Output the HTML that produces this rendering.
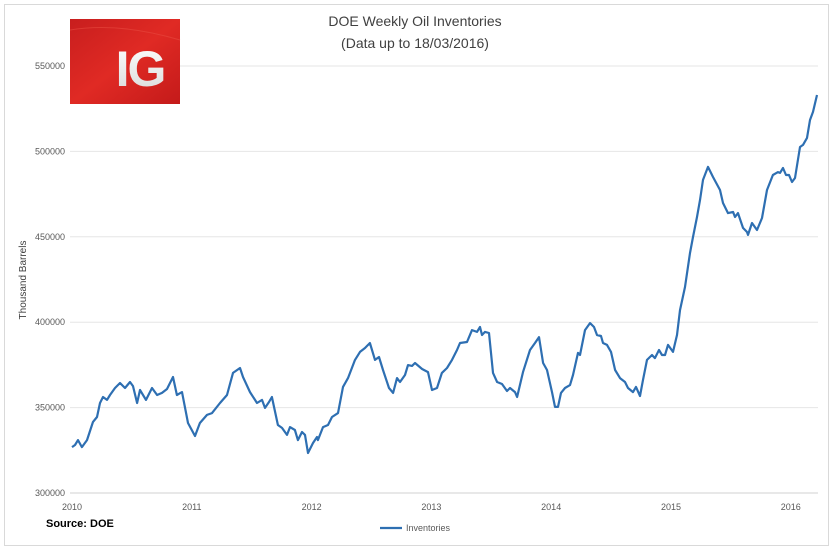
<!DOCTYPE html>
<html><head><meta charset="utf-8"><style>
body{margin:0;background:#fff;font-family:"Liberation Sans",sans-serif}
svg{display:block}
</style></head><body>
<svg width="832" height="550" viewBox="0 0 832 550">
<defs><linearGradient id="lg" x1="0" y1="0" x2="1" y2="1"><stop offset="0" stop-color="#c81e1e"/><stop offset="0.5" stop-color="#e02a24"/><stop offset="1" stop-color="#c41a1a"/></linearGradient>
<linearGradient id="ig" x1="0" y1="0" x2="0" y2="1"><stop offset="0" stop-color="#ffffff"/><stop offset="1" stop-color="#d8d8d8"/></linearGradient></defs>
<rect x="4.5" y="4.5" width="824" height="541" fill="#fff" stroke="#d9d9d9"/>
<g id="grid"></g>
<g id="yticks"></g>
<g id="xticks"></g>
<g>
<rect x="70" y="19" width="110" height="85" fill="url(#lg)"/>
<path d="M70 30 Q120 22 180 40" stroke="#e84a40" stroke-width="1" fill="none" opacity="0.6"/>
<text x="140" y="86" text-anchor="middle" font-size="50" font-weight="bold" fill="url(#ig)" font-family="Liberation Sans, sans-serif" letter-spacing="-2">IG</text>
</g>
<text x="415" y="26" text-anchor="middle" font-size="14" fill="#404040">DOE Weekly Oil Inventories</text>
<text x="415" y="48" text-anchor="middle" font-size="14" fill="#404040">(Data up to 18/03/2016)</text>
<text transform="translate(26,280) rotate(-90)" text-anchor="middle" font-size="10" fill="#404040">Thousand Barrels</text>
<path id="line" fill="none" stroke="#2e6fb2" stroke-width="2.2" stroke-linejoin="round"/>
<text x="46" y="527" font-size="11" font-weight="bold" fill="#000">Source: DOE</text>
<g>
<line x1="380" y1="528" x2="402" y2="528" stroke="#2e6fb2" stroke-width="2.2"/>
<text x="406" y="531" font-size="9" fill="#595959">Inventories</text>
</g>
</svg>
<script>
const yTicks=[300000,350000,400000,450000,500000,550000];
const xTickYears=[2010,2011,2012,2013,2014,2015,2016];
const yearsSince2010=[0,.025,.05,.083,.125,.175,.209,.234,.259,.292,.317,.359,.401,.442,.484,.509,.543,.568,.618,.668,.710,.751,.793,.843,.876,.918,.968,1.027,1.068,1.127,1.169,1.235,1.294,1.344,1.402,1.427,1.486,1.544,1.586,1.611,1.644,1.669,1.719,1.753,1.795,1.820,1.861,1.886,1.920,1.945,1.970,2.012,2.045,2.053,2.095,2.137,2.170,2.220,2.262,2.304,2.362,2.404,2.446,2.487,2.529,2.563,2.596,2.646,2.680,2.713,2.738,2.780,2.805,2.838,2.863,2.922,2.972,3.005,3.047,3.088,3.130,3.172,3.214,3.239,3.297,3.339,3.381,3.406,3.422,3.447,3.481,3.514,3.548,3.589,3.631,3.656,3.698,3.715,3.765,3.823,3.865,3.898,3.932,3.965,4.007,4.032,4.057,4.082,4.115,4.157,4.182,4.224,4.240,4.282,4.324,4.357,4.382,4.416,4.432,4.466,4.499,4.533,4.574,4.616,4.641,4.683,4.708,4.741,4.766,4.800,4.841,4.866,4.900,4.925,4.950,4.975,5.017,5.050,5.075,5.117,5.159,5.184,5.217,5.242,5.267,5.309,5.351,5.409,5.434,5.476,5.518,5.534,5.559,5.601,5.634,5.643,5.676,5.718,5.760,5.801,5.851,5.893,5.910,5.935,5.960,5.985,6.010,6.035,6.077,6.102,6.135,6.160,6.185,6.219];
const inventories=[326.9,328.1,331.0,326.9,331.0,341.6,344.5,352.7,356.2,354.5,357.4,361.5,364.4,361.5,365.0,362.6,352.7,360.3,354.5,361.5,357.4,358.6,360.9,367.9,357.4,359.1,341.0,333.4,341.0,345.7,346.8,352.7,357.4,370.3,373.2,367.9,359.1,352.7,354.5,349.8,353.3,356.2,339.8,338.1,334.0,338.6,336.9,331.0,335.7,334.0,323.4,329.3,332.8,331.0,338.6,339.8,344.5,346.8,362.1,367.3,377.9,382.6,384.9,387.8,377.9,379.6,372.0,361.5,358.6,367.3,365.0,369.1,374.9,374.4,376.1,372.6,370.8,360.3,361.5,370.3,373.2,377.9,383.7,387.8,388.4,395.4,394.3,397.2,392.5,394.3,393.7,370.3,365.0,363.8,359.7,361.5,359.1,356.2,370.8,383.7,387.8,391.3,376.1,372.0,359.1,350.4,350.4,358.6,361.5,363.2,369.1,382.0,380.8,395.4,399.5,397.2,392.5,391.9,387.8,386.7,382.6,372.0,367.3,365.0,361.5,359.1,362.1,356.8,366.2,377.9,380.8,379.0,383.7,380.8,380.8,386.7,382.6,392.5,407.1,420.6,440.5,449.9,461.6,471.5,483.3,490.9,485.0,477.4,469.8,463.9,464.5,461.6,463.9,455.2,452.8,451.1,458.1,454.0,461.0,477.4,486.2,487.9,487.4,490.3,486.2,486.2,482.1,484.4,502.6,503.8,507.9,518.4,523.1,533.0];
const NS="http://www.w3.org/2000/svg";
const X0=72, XPY=119.8, Y0=493, YPK=85.4/50000;
function xs(t){return X0+t*XPY;}
function ys(v){return Y0-(v-300000)*YPK;}
const grid=document.getElementById('grid'), yt=document.getElementById('yticks'), xt=document.getElementById('xticks');
yTicks.forEach(v=>{
  const l=document.createElementNS(NS,'line');
  l.setAttribute('x1',70);l.setAttribute('x2',818);
  l.setAttribute('y1',ys(v));l.setAttribute('y2',ys(v));
  l.setAttribute('stroke',v===300000?'#d0d0d0':'#e6e6e6');l.setAttribute('stroke-width',1);
  
  
  grid.appendChild(l);
  const t=document.createElementNS(NS,'text');
  t.setAttribute('x',65);t.setAttribute('y',ys(v)+3);t.setAttribute('text-anchor','end');
  t.setAttribute('font-size',9);t.setAttribute('fill','#595959');t.textContent=v;
  
  
  yt.appendChild(t);
});
xTickYears.forEach(y=>{
  const t=document.createElementNS(NS,'text');
  t.setAttribute('x',xs(y-2010));t.setAttribute('y',510);t.setAttribute('text-anchor','middle');
  t.setAttribute('font-size',9);t.setAttribute('fill','#595959');t.textContent=y;
  
  
  xt.appendChild(t);
});
let d='';
yearsSince2010.forEach((t,i)=>{d+=(i?'L':'M')+xs(t).toFixed(1)+' '+ys(inventories[i]*1000).toFixed(1);});
document.getElementById('line').setAttribute('d',d);
</script>
</body></html>
